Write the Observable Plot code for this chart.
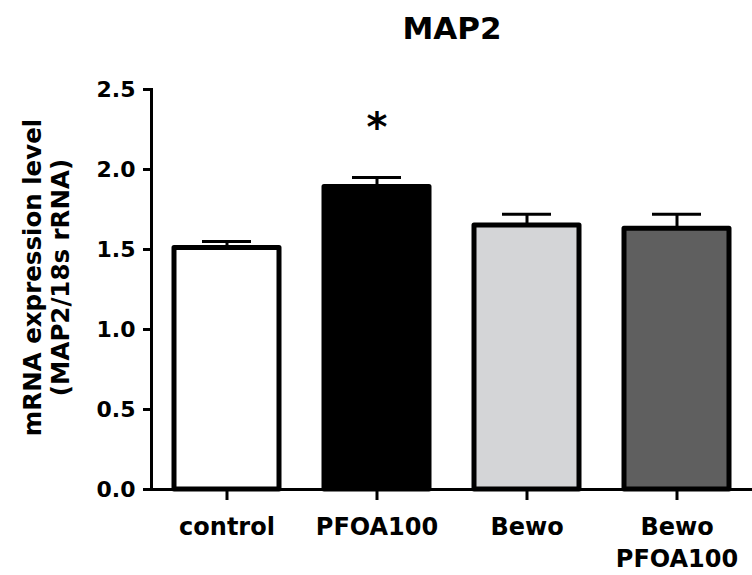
<!DOCTYPE html>
<html><head><meta charset="utf-8">
<script src="https://cdn.jsdelivr.net/npm/d3@7"></script>
<script src="https://cdn.jsdelivr.net/npm/@observablehq/plot@0.6"></script>
<style>body{margin:0;background:#fff}</style>
</head><body><div id="chart"></div>
<script>
const title = "MAP2";
const yLabel = "mRNA expression level\n(MAP2/18s rRNA)";
const categories = ["control", "PFOA100", "Bewo", "Bewo\nPFOA100"];
const means = [1.51, 1.89, 1.65, 1.63];
const sems = [0.04, 0.06, 0.07, 0.09];
const fills = ["#ffffff", "#000000", "#d4d5d7", "#5f5f5f"];
const significance = ["", "*", "", ""];
const yTicks = [0, 0.5, 1.0, 1.5, 2.0, 2.5];

const data = categories.map((c, i) => ({cat: c, mean: means[i], sem: sems[i], fill: fills[i], sig: significance[i]}));
const font = "'DejaVu Sans', sans-serif";

const plot = Plot.plot({
  width: 752, height: 575,
  marginTop: 89, marginBottom: 86, marginLeft: 151, marginRight: 0,
  style: {fontFamily: font, fontWeight: "bold", color: "#000", background: "#fff", overflow: "visible"},
  x: {domain: categories, paddingInner: 0.3, paddingOuter: 0.15, label: null},
  y: {domain: [0, 2.5], label: null},
  color: {type: "identity"},
  marks: [
    Plot.axisY({ticks: yTicks, tickFormat: d => d.toFixed(1), tickSize: 8, tickPadding: 8, fontSize: 22, strokeWidth: 3, label: null}),
    Plot.axisX({tickSize: 11, tickPadding: 11, fontSize: 24, strokeWidth: 3, lineHeight: 1.36, label: null}),
    Plot.ruleX(data, {x: "cat", y1: "mean", y2: d => d.mean + d.sem, strokeWidth: 3}),
    Plot.tickY(data, {x: "cat", y: d => d.mean + d.sem, strokeWidth: 3, insetLeft: 28, insetRight: 28}),
    Plot.barY(data, {x: "cat", y: "mean", fill: "fill", stroke: "#000", strokeWidth: 5, strokeLinejoin: "round"}),
    Plot.ruleY([0], {strokeWidth: 3}),
    Plot.frame({anchor: "left", strokeWidth: 3}),
    Plot.text(data.filter(d => d.sig), {x: "cat", y: d => d.mean + d.sem, text: "sig", dy: -37, lineAnchor: "bottom", fontSize: 40}),
    Plot.text([title], {frameAnchor: "top", dy: -51, textAnchor: "middle", lineAnchor: "bottom", fontSize: 31}),
    Plot.text([yLabel], {frameAnchor: "left", rotate: -90, dx: -83, dy: -12, textAnchor: "middle", lineAnchor: "bottom", fontSize: 24.5, lineHeight: 1.12})
  ]
});
document.getElementById("chart").appendChild(plot);
</script>
</body></html>
